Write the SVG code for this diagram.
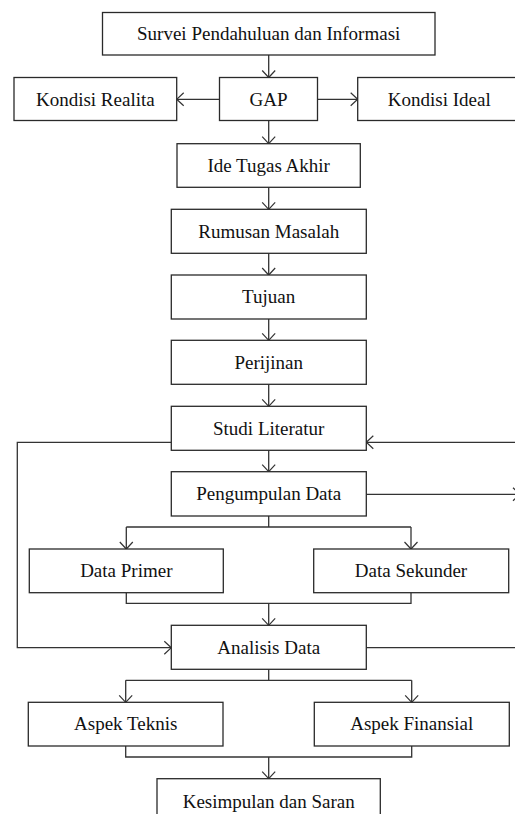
<svg xmlns="http://www.w3.org/2000/svg" width="515" height="814" viewBox="0 0 515 814">
<style>
.box{fill:#fff;stroke:#2a2a2a;stroke-width:1.3}
.lbl{font-family:"Liberation Serif","Times New Roman",serif;font-size:19px;fill:#111;text-anchor:middle}
.ln{fill:none;stroke:#333;stroke-width:1.3}
.ar{marker-end:url(#arr)}
</style>
<defs>
<marker id="arr" viewBox="-8 -8 9 16" markerWidth="9" markerHeight="16" refX="0" refY="0" markerUnits="userSpaceOnUse" orient="auto">
<path d="M-7,-6.5 L0,0 L-7,6.5" fill="none" stroke="#333" stroke-width="1.2"/>
</marker>
</defs>
<rect width="515" height="814" fill="#fff"/>
<g id="connectors">
<path class="ln ar" d="M268.7,55 V77.5"/>
<path class="ln ar" d="M219.5,99.3 H176.7"/>
<path class="ln ar" d="M317.5,99.3 H357.7"/>
<path class="ln ar" d="M268.7,120.5 V143.7"/>
<path class="ln ar" d="M268.7,187.3 V209.3"/>
<path class="ln ar" d="M268.7,253.3 V275"/>
<path class="ln ar" d="M268.7,319 V340.3"/>
<path class="ln ar" d="M268.7,384.3 V406.3"/>
<path class="ln ar" d="M268.7,450.3 V471.7"/>
<path class="ln ar" d="M171.3,442.3 H17.3 V647.7 H171.3"/>
<path class="ln ar" d="M516,442.3 H366.3"/>
<path class="ln ar" d="M366.3,494.3 H520"/>
<path class="ln" d="M366.3,647.7 H516"/>
<path class="ln" d="M268.7,516 V527 M126.3,527 H411"/>
<path class="ln ar" d="M126.3,527 V549"/>
<path class="ln ar" d="M411,527 V549"/>
<path class="ln" d="M126.3,592.7 V603.3 H411 V592.7"/>
<path class="ln ar" d="M268.7,603.3 V625.3"/>
<path class="ln" d="M268.7,669.3 V680.3 M125.7,680.3 H411.7"/>
<path class="ln ar" d="M125.7,680.3 V702.3"/>
<path class="ln ar" d="M411.7,680.3 V702.3"/>
<path class="ln" d="M125.7,746 V757 H411.7 V746"/>
<path class="ln ar" d="M268.7,757 V778.7"/>
</g>
<g id="survei"><rect class="box" x="102.5" y="12.5" width="332.5" height="42.5"/><text class="lbl" x="268.7" y="40">Survei Pendahuluan dan Informasi</text></g>
<g id="gap"><rect class="box" x="219.5" y="77.5" width="98" height="43"/><text class="lbl" x="268.5" y="105.5">GAP</text></g>
<g id="realita"><rect class="box" x="14" y="77.5" width="162.7" height="43"/><text class="lbl" x="95.3" y="105.5">Kondisi Realita</text></g>
<g id="ideal"><rect class="box" x="357.7" y="77.5" width="165" height="43"/><text class="lbl" x="439.3" y="105.5">Kondisi Ideal</text></g>
<g id="ide"><rect class="box" x="177" y="143.7" width="183.3" height="43.6"/><text class="lbl" x="268.7" y="172">Ide Tugas Akhir</text></g>
<g id="rumusan"><rect class="box" x="171.3" y="209.3" width="195" height="44"/><text class="lbl" x="268.7" y="237.5">Rumusan Masalah</text></g>
<g id="tujuan"><rect class="box" x="171.3" y="275" width="195" height="44"/><text class="lbl" x="268.7" y="303.3">Tujuan</text></g>
<g id="perijinan"><rect class="box" x="171.3" y="340.3" width="195" height="44"/><text class="lbl" x="268.7" y="368.7">Perijinan</text></g>
<g id="studi"><rect class="box" x="171.3" y="406.3" width="195" height="44"/><text class="lbl" x="268.7" y="434.7">Studi Literatur</text></g>
<g id="pengumpulan"><rect class="box" x="171.3" y="471.7" width="195" height="44.3"/><text class="lbl" x="268.7" y="500.3">Pengumpulan Data</text></g>
<g id="primer"><rect class="box" x="29.3" y="549" width="194" height="43.7"/><text class="lbl" x="126.3" y="577">Data Primer</text></g>
<g id="sekunder"><rect class="box" x="313.7" y="549" width="195" height="43.7"/><text class="lbl" x="411" y="577">Data Sekunder</text></g>
<g id="analisis"><rect class="box" x="171.3" y="625.3" width="195" height="44"/><text class="lbl" x="268.7" y="654">Analisis Data</text></g>
<g id="teknis"><rect class="box" x="28.3" y="702.3" width="194.7" height="43.7"/><text class="lbl" x="125.7" y="730.3">Aspek Teknis</text></g>
<g id="finansial"><rect class="box" x="314.3" y="702.3" width="195" height="43.7"/><text class="lbl" x="411.7" y="730.3">Aspek Finansial</text></g>
<g id="kesimpulan"><rect class="box" x="157" y="778.7" width="223.3" height="50"/><text class="lbl" x="268.7" y="808.3">Kesimpulan dan Saran</text></g>
</svg>
